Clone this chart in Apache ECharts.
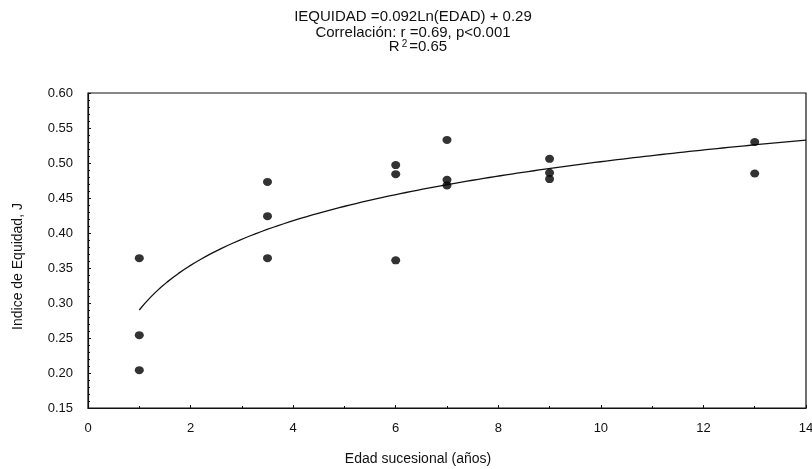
<!DOCTYPE html>
<html>
<head>
<meta charset="utf-8">
<script src="https://cdn.jsdelivr.net/npm/echarts@6/dist/echarts.min.js"></script>
<style>
  html, body { margin: 0; padding: 0; background: #fff; }
  #chart { width: 812px; height: 469px; }
</style>
</head>
<body>
<div id="chart"></div>
<script>
// Successional age (years) of each sampled plot
const edad = [1, 1, 1, 3.5, 3.5, 3.5, 6, 6, 6, 7, 7, 7, 9, 9, 9, 13, 13];
// Evenness index J measured in each plot
const equidad = [0.364, 0.254, 0.204, 0.473, 0.424, 0.364, 0.497, 0.484, 0.361,
                 0.533, 0.476, 0.468, 0.506, 0.486, 0.477, 0.530, 0.485];

// Fitted logarithmic model: J = a*ln(EDAD) + b
const coefA = 0.092;
const coefB = 0.29;
const fitStart = 1;
const fitEnd = 14;
const fitSteps = 120;

const yTicks = ['0.15', '0.20', '0.25', '0.30', '0.35', '0.40', '0.45', '0.50', '0.55', '0.60'];
const xTicks = ['0', '2', '4', '6', '8', '10', '12', '14'];

const points = edad.map((x, i) => [x, equidad[i]]);
const fitLine = [];
for (let i = 0; i <= fitSteps; i++) {
  const x = fitStart + (fitEnd - fitStart) * i / fitSteps;
  fitLine.push([x, coefA * Math.log(x) + coefB]);
}

const font = 'Liberation Sans, Arial, sans-serif';
const ink = '#111';
const headStyle = { fontFamily: font, fontSize: 15, fontWeight: 'normal', color: ink };

const chart = echarts.init(document.getElementById('chart'), null, { renderer: 'canvas' });
chart.setOption({
  animation: false,
  backgroundColor: '#fff',
  title: [
    { text: 'IEQUIDAD =0.092Ln(EDAD) + 0.29', left: 413, top: 9, padding: 0, textAlign: 'center',
      textStyle: headStyle },
    { text: 'Correlación: r =0.69, p<0.001', left: 413, top: 25, padding: 0, textAlign: 'center',
      textStyle: headStyle },
    { text: 'R{s|2}=0.65', left: 418, top: 39, padding: 0, textAlign: 'center',
      textStyle: Object.assign({}, headStyle, {
        rich: { s: { fontSize: 10, verticalAlign: 'top', padding: [0, 2, 6, 2], fontFamily: font, color: ink } }
      }) }
  ],
  grid: { left: 88, right: 6, top: 93, bottom: 61, show: true, borderColor: ink, borderWidth: 1.2,
    containLabel: false, outerBoundsMode: 'none' },
  xAxis: {
    type: 'value', min: 0, max: 14, interval: 2,
    name: 'Edad sucesional (años)', nameLocation: 'middle', nameGap: 44,
    nameTextStyle: { fontFamily: font, fontSize: 14, color: ink, padding: [0, 58, 0, 0] },
    axisLine: { show: true, lineStyle: { color: ink, width: 1.2 } },
    axisTick: { show: true, inside: true, length: 3, lineStyle: { color: ink } },
    minorTick: { show: true, splitNumber: 2, length: 2, lineStyle: { color: ink } },
    splitLine: { show: false },
    axisLabel: { fontFamily: font, fontSize: 13, color: ink, margin: 14,
      formatter: v => xTicks[Math.round(v / 2)] }
  },
  yAxis: {
    type: 'value', min: 0.15, max: 0.60, interval: 0.05,
    name: 'Indice de Equidad, J', nameLocation: 'middle', nameGap: 63, nameRotate: 90,
    nameTextStyle: { fontFamily: font, fontSize: 14, color: ink, padding: [0, 32, 0, 0] },
    axisLine: { show: true, lineStyle: { color: ink, width: 1.2 } },
    axisTick: { show: true, inside: true, length: 3, lineStyle: { color: ink } },
    minorTick: { show: true, splitNumber: 5, length: 2, lineStyle: { color: ink } },
    splitLine: { show: false },
    axisLabel: { fontFamily: font, fontSize: 13, color: ink, margin: 15,
      formatter: v => yTicks[Math.round((v - 0.15) / 0.05)] }
  },
  series: [
    {
      type: 'line', data: fitLine, showSymbol: false, smooth: false,
      lineStyle: { color: ink, width: 1.3 }, z: 2
    },
    {
      type: 'scatter', data: points, symbol: 'circle', symbolSize: [9, 8],
      itemStyle: { color: '#000' }, z: 3
    }
  ]
});
</script>
</body>
</html>
